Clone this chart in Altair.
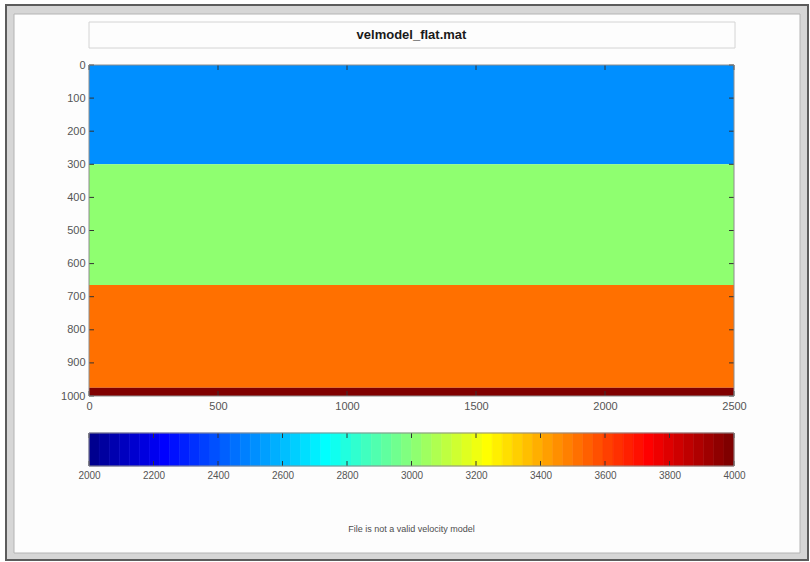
import altair as alt
import numpy as np
import pandas as pd

# ---- text ----
title_text = "velmodel_flat.mat"
caption_text = "File is not a valid velocity model"

# ---- layered velocity model: depth intervals and velocities ----
layer_top = [0, 300, 665, 975]
layer_bottom = [300, 665, 975, 1000]
layer_velocity = [2500, 3000, 3500, 4000]
model_x0 = [0, 0, 0, 0]
model_x1 = [2500, 2500, 2500, 2500]

# ---- axes ----
x_ticks = [0, 500, 1000, 1500, 2000, 2500]
y_ticks = [0, 100, 200, 300, 400, 500, 600, 700, 800, 900, 1000]
cbar_ticks = [2000, 2200, 2400, 2600, 2800, 3000, 3200, 3400, 3600, 3800, 4000]
v_range = [2000, 4000]
n_colors = 64

FONT = "Liberation Sans"
W, H = 645, 331
CB_H = 33
TICK = "#333333"
LABEL = "#555555"


def jet(m):
    """MATLAB-style jet colormap with m entries, as hex strings."""
    n = int(np.ceil(m / 4))
    u = np.concatenate([np.arange(1, n + 1) / n, np.ones(n - 1), np.arange(n, 0, -1) / n])
    g = int(np.ceil(n / 2)) - (1 if m % 4 == 1 else 0) + np.arange(1, len(u) + 1)
    rgb = np.zeros((m, 3))
    for ch, idx in ((0, g + n), (1, g), (2, g - n)):
        ok = (idx >= 1) & (idx <= m)
        rgb[idx[ok] - 1, ch] = u[ok]
    return ["#%02x%02x%02x" % tuple(int(round(c * 255)) for c in row) for row in rgb]


cscale = alt.Scale(type="quantize", domain=v_range, range=jet(n_colors))

# colorbar bands spanning the colour range
edges = np.linspace(v_range[0], v_range[1], n_colors + 1)
cbar_df = pd.DataFrame({"lo": edges[:-1], "hi": edges[1:]})
cbar_df["mid"] = (cbar_df["lo"] + cbar_df["hi"]) / 2

model_df = pd.DataFrame({
    "x0": model_x0, "x1": model_x1,
    "top": layer_top, "bottom": layer_bottom, "v": layer_velocity,
})
xt_df = pd.DataFrame({"t": x_ticks})
yt_df = pd.DataFrame({"t": y_ticks})
ct_df = pd.DataFrame({"t": cbar_ticks})
one = pd.DataFrame({"k": [0]})

xs = alt.Scale(domain=[0, 2500], nice=False, zero=False)
ys = alt.Scale(domain=[0, 1000], reverse=True, nice=False, zero=False)
cs = alt.Scale(domain=v_range, nice=False, zero=False)

lab = dict(labelFont=FONT, labelColor=LABEL, ticks=False, domain=False,
           grid=False, title=None, format="d", labelOverlap=False,
           labelFlush=False, labelBound=False)
x_axis = alt.Axis(values=x_ticks, labelFontSize=11, labelPadding=4, **lab)
y_axis = alt.Axis(values=y_ticks, labelFontSize=11, labelPadding=4, **lab)
c_axis = alt.Axis(values=cbar_ticks, labelFontSize=10, labelPadding=4, **lab)


def box(width, height, color):
    """Outline drawn over a panel's plotting area."""
    return alt.Chart(one).mark_rect(filled=False, stroke=color, strokeWidth=1).encode(
        x=alt.value(0), x2=alt.value(width), y=alt.value(0), y2=alt.value(height))


# ---- title box panel (also carries the window frame) ----
frame_outer = alt.Chart(one).mark_rect(
    fill="#d6d6d6", stroke="#5c5c5c", strokeWidth=2
).encode(x=alt.value(-83), x2=alt.value(719), y=alt.value(-17), y2=alt.value(538))
frame_inner = alt.Chart(one).mark_rect(
    fill="#fdfdfd", stroke="#b4b4b4", strokeWidth=1
).encode(x=alt.value(-75), x2=alt.value(711), y=alt.value(-8), y2=alt.value(531))
title_mark = alt.Chart(pd.DataFrame({"t": [title_text]})).mark_text(
    font=FONT, fontSize=13, fontWeight="bold", color="#1a1a1a", baseline="middle"
).encode(text="t:N", x=alt.value(W / 2), y=alt.value(13))
title_panel = alt.layer(frame_outer, frame_inner, box(W + 1, 26, "#d4d4d4"), title_mark).properties(
    width=W, height=26
)

# ---- velocity model image ----
rects = alt.Chart(model_df).mark_rect().encode(
    x=alt.X("x0:Q", scale=xs, axis=x_axis),
    x2="x1:Q",
    y=alt.Y("top:Q", scale=ys, axis=y_axis),
    y2="bottom:Q",
    color=alt.Color("v:Q", scale=cscale, legend=None),
)
# inward tick marks on all four sides of the image
tick_l = alt.Chart(yt_df).mark_rule(color=TICK).encode(
    y=alt.Y("t:Q", scale=ys, axis=y_axis), x=alt.value(0), x2=alt.value(5))
tick_r = alt.Chart(yt_df).mark_rule(color=TICK).encode(
    y=alt.Y("t:Q", scale=ys, axis=y_axis), x=alt.value(W - 5), x2=alt.value(W))
tick_b = alt.Chart(xt_df).mark_rule(color=TICK).encode(
    x=alt.X("t:Q", scale=xs, axis=x_axis), y=alt.value(H - 5), y2=alt.value(H))
tick_t = alt.Chart(xt_df).mark_rule(color=TICK).encode(
    x=alt.X("t:Q", scale=xs, axis=x_axis), y=alt.value(0), y2=alt.value(5))
model_panel = alt.layer(rects, tick_l, tick_r, tick_b, tick_t, box(W, H, "#8c8c8c")).properties(
    width=W, height=H
)

# ---- colorbar ----
bands = alt.Chart(cbar_df).mark_rect(strokeWidth=0.6).encode(
    x=alt.X("lo:Q", scale=cs, axis=c_axis),
    x2="hi:Q",
    y=alt.value(0), y2=alt.value(CB_H),
    color=alt.Color("mid:Q", scale=cscale, legend=None),
    stroke=alt.Stroke("mid:Q", scale=cscale, legend=None),
)
ctick_t = alt.Chart(ct_df).mark_rule(color=TICK).encode(
    x=alt.X("t:Q", scale=cs, axis=c_axis), y=alt.value(0), y2=alt.value(5))
ctick_b = alt.Chart(ct_df).mark_rule(color=TICK).encode(
    x=alt.X("t:Q", scale=cs, axis=c_axis), y=alt.value(CB_H - 5), y2=alt.value(CB_H))
caption = alt.Chart(pd.DataFrame({"c": [caption_text]})).mark_text(
    font=FONT, fontSize=9, color="#4d4d4d", baseline="middle"
).encode(text="c:N", x=alt.value(W / 2), y=alt.value(96))
cbar_panel = alt.layer(bands, ctick_t, ctick_b, box(W, CB_H, "#8c8c8c"), caption).properties(
    width=W, height=CB_H
)

lower = alt.vconcat(model_panel, cbar_panel, spacing=37, bounds="flush")
chart = alt.vconcat(title_panel, lower, spacing=17, bounds="flush").properties(
    padding={"left": 5, "top": 4, "right": 0, "bottom": 0},
    background="#ffffff",
).configure_view(stroke=None)

chart.save("out.html", embed_options={"renderer": "svg", "actions": False})
